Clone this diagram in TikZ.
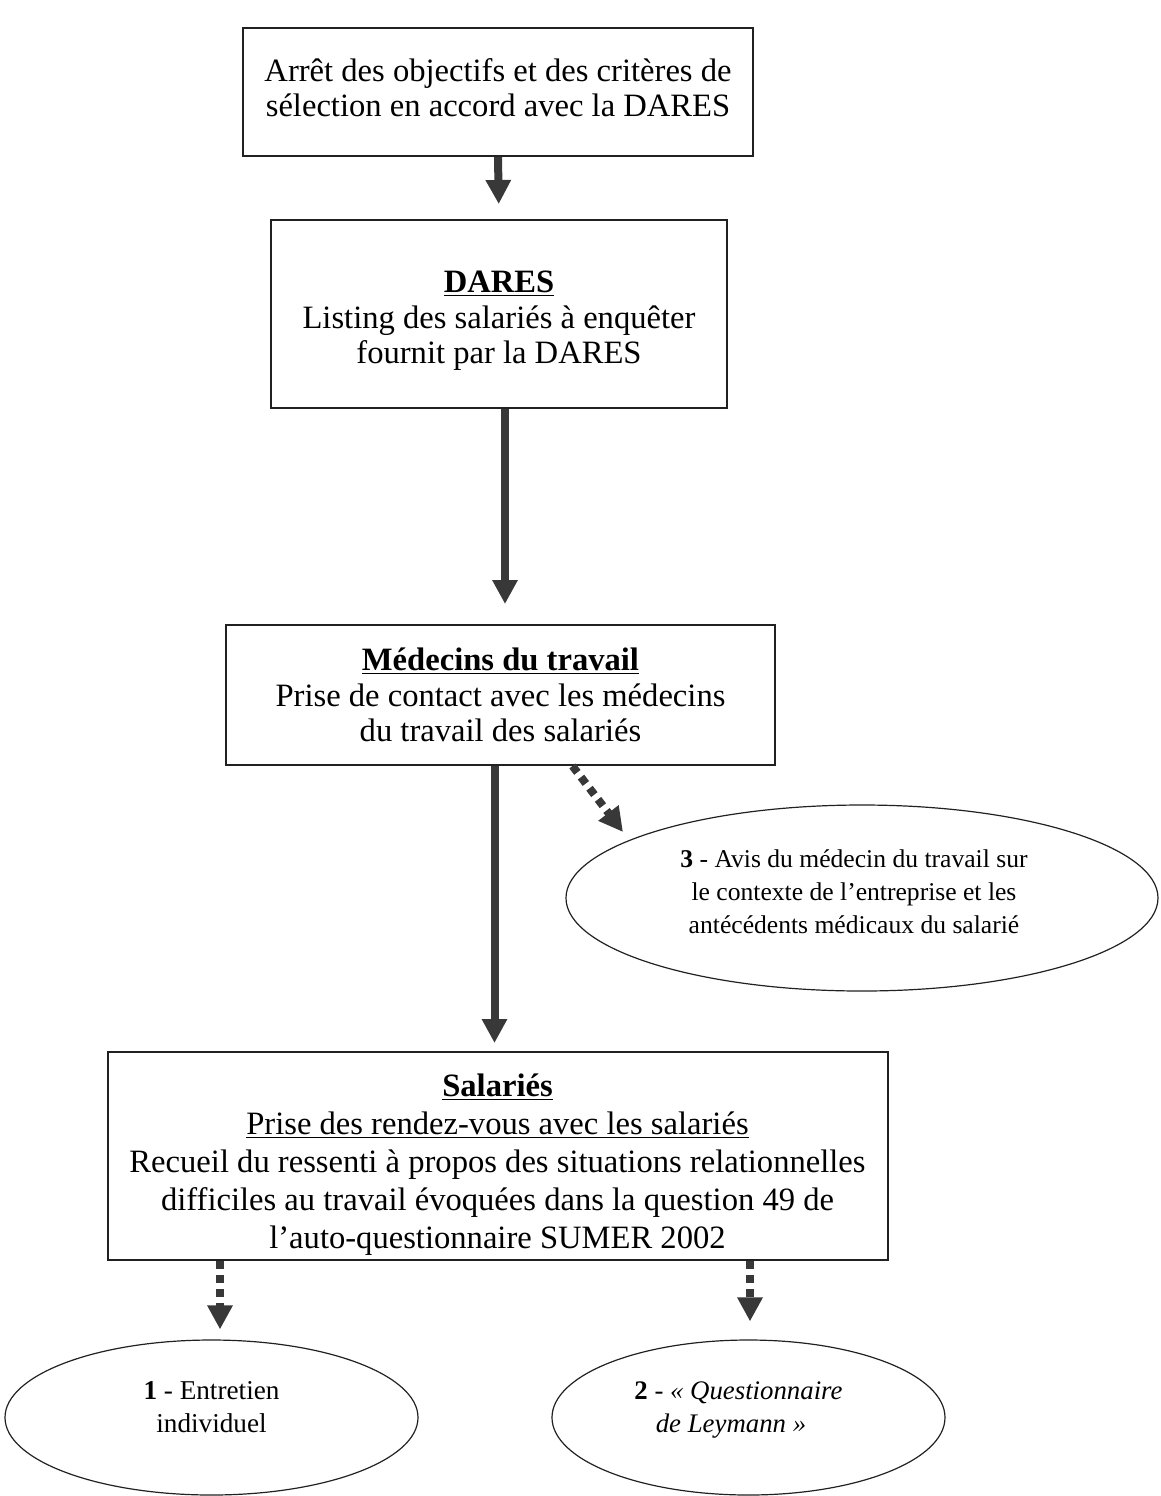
\documentclass[tikz,border=0pt]{standalone}
\usepackage{fontspec}
\setmainfont{Liberation Serif}
\usetikzlibrary{arrows.meta,shapes.geometric}
\definecolor{arrowgray}{rgb}{0.22,0.22,0.22}
\definecolor{linegray}{rgb}{0.13,0.13,0.13}
\newcommand{\liftlines}[2]{\raisebox{#1}[\height][\depth]{\begin{tabular}{@{}c@{}}#2\end{tabular}}}
\begin{document}
\begin{tikzpicture}[x=0.5pt,y=-0.5pt,
  stepbox/.style={draw=linegray,line width=1pt,align=center,inner sep=0pt,
    font=\fontsize{16.3}{17.8}\selectfont},
  oval/.style={draw=linegray,line width=0.6pt,ellipse,align=center,inner sep=0pt},
  bigarrow/.style={draw=arrowgray,line width=4pt,-{Triangle[width=12pt,length=12pt]}},
  dotarrow/.style={bigarrow,dash pattern=on 4pt off 3pt}]
\useasboundingbox (0,0) rectangle (1161,1496);
\node[stepbox,minimum width=255pt,minimum height=64pt] (b1) at (498,92)
  {\liftlines{0pt}{Arrêt des objectifs et des critères de\\sélection en accord avec la DARES}};
\node[stepbox,minimum width=228pt,minimum height=94pt] (b2) at (499,314)
  {\liftlines{-3.5pt}{\underline{\textbf{DARES}}\\Listing des salariés à enquêter\\fournit par la DARES}};
\node[stepbox,minimum width=274.5pt,minimum height=70pt] (b3) at (500.5,695)
  {\underline{\textbf{Médecins du travail}}\\Prise de contact avec les médecins\\du travail des salariés};
\node[stepbox,minimum width=390pt,minimum height=104pt,font=\fontsize{16.3}{19}\selectfont] (b4) at (497.5,1156)
  {\liftlines{-4.5pt}{\underline{\textbf{Salariés}}\\\underline{Prise des rendez-vous avec les salariés}\\Recueil du ressenti à propos des situations relationnelles\\difficiles au travail évoquées dans la question 49 de\\l’auto-questionnaire SUMER 2002}};
\node[oval,minimum width=296pt,minimum height=93pt,font=\fontsize{12.8}{16.5}\selectfont] (e3) at (862,898)
  {\hspace*{-8pt}\liftlines{2pt}{\textbf{3} - Avis du médecin du travail sur\\le contexte de l’entreprise et les\\antécédents médicaux du salarié}};
\node[oval,minimum width=206.5pt,minimum height=77.5pt,font=\fontsize{13.6}{16.5}\selectfont] (e1) at (211.5,1417.5)
  {\liftlines{4pt}{\textbf{1} - Entretien\\individuel}};
\node[oval,minimum width=196.5pt,minimum height=77.5pt,font=\fontsize{13.4}{16.5}\selectfont] (e2) at (748.5,1417.5)
  {\liftlines{4pt}{\hspace*{-10pt}\textbf{2} - \textit{« Questionnaire}\\\hspace*{-17.5pt}\textit{de Leymann »}}};
\coordinate (t3) at (623,832);
\draw[bigarrow,shorten >=7.5pt] (b1.south) -- (b2.north);
\draw[bigarrow,shorten >=10pt] ([xshift=3pt]b2.south) -- ([xshift=3pt]b2.south |- b3.north);
\draw[bigarrow,shorten >=4pt] ([xshift=-3pt]b3.south) -- ([xshift=-3pt]b3.south |- b4.north);
\draw[dotarrow] ([xshift=36pt]b3.south) -- (t3);
\draw[dotarrow,shorten >=5pt] ([xshift=-138.75pt]b4.south) -- ([xshift=-138.75pt]b4.south |- e1.north);
\draw[dotarrow,shorten >=9pt] ([xshift=126.25pt]b4.south) -- ([xshift=126.25pt]b4.south |- e2.north);
\end{tikzpicture}
\end{document}
